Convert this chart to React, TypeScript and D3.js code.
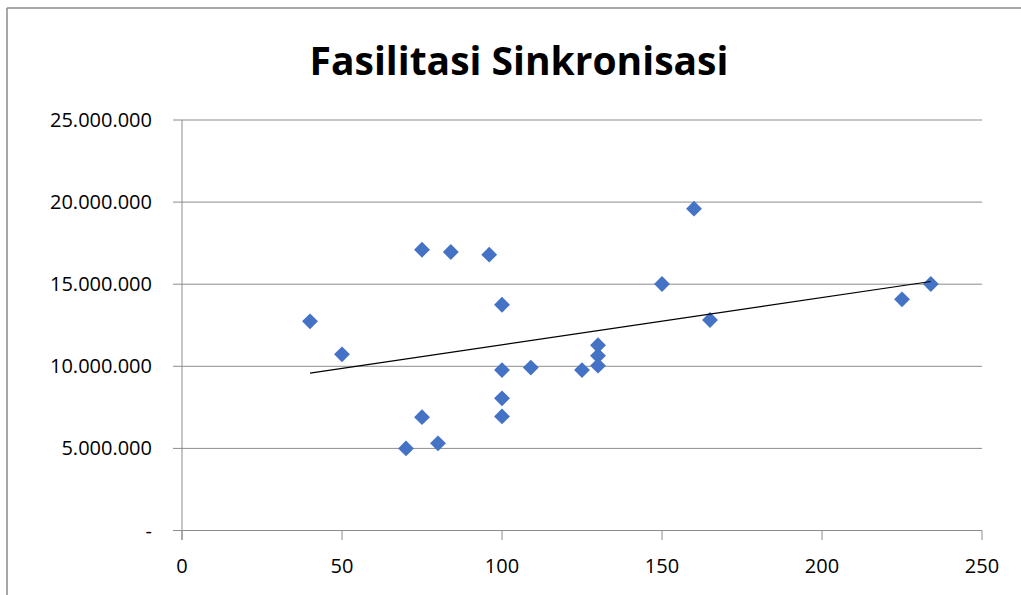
import React from "react";
import * as d3 from "d3";

const title = "Fasilitasi Sinkronisasi";
const xValues = [40, 50, 75, 84, 96, 100, 100, 109, 125, 130, 130, 130, 100, 100, 75, 70, 80, 160, 150, 165, 225, 234];
const yValues = [12740000, 10730000, 17100000, 16960000, 16800000, 13750000, 9770000, 9920000, 9770000, 11280000, 10650000, 10040000, 8050000, 6950000, 6900000, 5000000, 5310000, 19600000, 15010000, 12820000, 14080000, 15010000];
const xTicks = [0, 50, 100, 150, 200, 250];
const yTicks = [0, 5000000, 10000000, 15000000, 20000000, 25000000];

const locale = d3.formatLocale({ decimal: ",", thousands: ".", grouping: [3], currency: ["", ""] });
const fmt = locale.format(",.0f");

export default function App() {
  const W = 1021, H = 595;
  const x = d3.scaleLinear().domain([0, 250]).range([182, 982]);
  const y = d3.scaleLinear().domain([0, 25000000]).range([530.5, 120]);
  const n = xValues.length;
  const mx = d3.mean(xValues)!;
  const my = d3.mean(yValues)!;
  let sxy = 0, sxx = 0;
  for (let i = 0; i < n; i++) {
    sxy += (xValues[i] - mx) * (yValues[i] - my);
    sxx += (xValues[i] - mx) ** 2;
  }
  const slope = sxy / sxx;
  const icpt = my - slope * mx;
  const x0 = d3.min(xValues)!, x1 = d3.max(xValues)!;
  const trend = d3.line<number>().x(d => x(d)).y(d => y(icpt + slope * d))([x0, x1]);
  const diamond = d3.symbol().type(d3.symbolDiamond2).size(160)();
  const grid = "#8c8c8c";
  const font = "'Open Sans', sans-serif";
  return (
    <svg width={W} height={H} style={{ position: "absolute", left: 0, top: 0, background: "#fff" }}>
      <line x1={7} y1={8} x2={W} y2={8} stroke="#8a8a8a" strokeWidth={1.5} />
      <line x1={7} y1={8} x2={7} y2={H} stroke="#8a8a8a" strokeWidth={1.5} />
      <text x={519} y={75} textAnchor="middle" fontFamily={font} fontWeight={700} fontSize={39} fill="#000">{title}</text>
      {yTicks.map(t => (
        <g key={t}>
          <line x1={173} x2={982} y1={y(t)} y2={y(t)} stroke={grid} strokeWidth={1} />
          <text x={152} y={y(t) + 7} textAnchor="end" fontFamily={font} fontSize={20} fill="#000">{t === 0 ? "-" : fmt(t)}</text>
        </g>
      ))}
      <line x1={182} x2={182} y1={120} y2={540} stroke={grid} strokeWidth={1} />
      {xTicks.map(t => (
        <g key={t}>
          <line x1={x(t)} x2={x(t)} y1={530.5} y2={540} stroke={grid} strokeWidth={1} />
          <text x={x(t)} y={573} textAnchor="middle" fontFamily={font} fontSize={20} fill="#000">{t}</text>
        </g>
      ))}
      {xValues.map((v, i) => (
        <path key={i} d={diamond!} transform={`translate(${x(v)},${y(yValues[i])})`} fill="#4472C4" />
      ))}
      <path d={trend!} stroke="#000" strokeWidth={1.2} fill="none" />
    </svg>
  );
}
